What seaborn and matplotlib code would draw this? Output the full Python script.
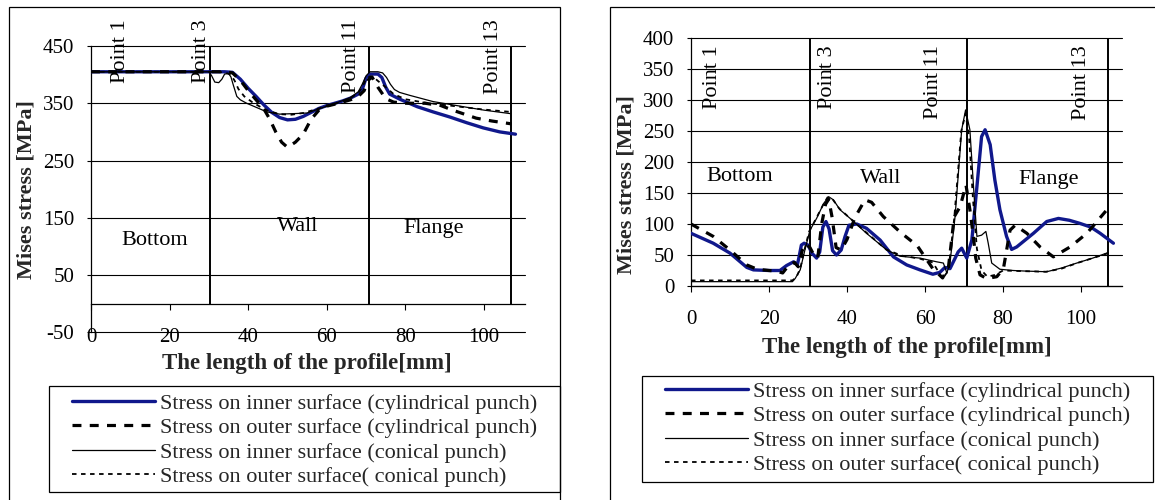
import matplotlib
matplotlib.use("Agg")
import matplotlib.pyplot as plt
import seaborn as sns
from matplotlib.patches import Rectangle
from matplotlib.lines import Line2D

# ---------------- data ----------------
series_labels = ["Stress on inner surface (cylindrical punch)",
                 "Stress on outer surface (cylindrical punch)",
                 "Stress on inner surface (conical punch)",
                 "Stress on outer surface( conical punch)"]
point_labels = ["Point 1", "Point 3", "Point 11", "Point 13"]
region_labels = ["Bottom", "Wall", "Flange"]

# left panel
L_x_inner_cyl = [0, 10, 20, 30, 34, 36, 38, 40, 42, 44, 46, 48, 50, 52, 54, 56, 58, 60, 62, 64, 66, 68, 69, 70, 71,
                 73, 74, 75, 76, 78.6, 83, 87, 91.3, 95.6, 99.8, 104, 108]
L_y_inner_cyl = [405, 405, 405, 405, 405, 404, 392, 376, 362, 347, 334, 325, 321, 322, 327, 334, 341, 346, 350, 354,
                 359, 366, 374, 394, 401, 401, 395, 378, 366, 357, 344, 335, 326, 316, 307, 300, 296]
L_x_outer_cyl = [0, 10, 20, 30, 34, 36, 38, 40, 42, 44, 45.5, 47, 48.5, 50, 52, 54, 56, 58, 60, 63, 66, 68, 69.5,
                 70.5, 71.5, 73, 75, 77, 80, 85, 89, 92, 95, 98, 102, 107]
L_y_outer_cyl = [405, 405, 405, 405, 405, 403, 390, 372, 356, 340, 322, 300, 282, 273, 282, 296, 322, 338, 345, 350,
                 356, 362, 372, 390, 396, 378, 358, 352, 350, 350, 346, 338, 331, 324, 319, 314]
L_x_inner_con = [0, 10, 20, 30, 30.7, 31.5, 32.5, 33.3, 34, 35, 35.6, 36.2, 37.1, 38, 39.6, 42, 44.7, 48, 52, 55,
                 58.3, 60, 63, 66, 68, 69, 70, 71, 73, 74.2, 75.2, 76.2, 77.2, 78.5, 81, 87, 95.6, 100, 106.6]
L_y_inner_con = [405, 405, 405, 405, 398, 387, 386, 392, 401, 402, 396, 382, 362, 356, 350, 343, 335, 331, 332, 333,
                 341, 345, 352, 360, 370, 383, 398, 405, 405, 403, 395, 383, 374, 369, 364, 353, 343, 338, 332]
L_x_outer_con = [0, 10, 20, 30, 34, 35.5, 36.5, 37.5, 39, 41, 43, 45, 48, 51, 54, 57, 60, 63, 66, 68, 69, 70, 71,
                 72, 73, 75, 77, 80, 85, 90, 95, 100, 106.6]
L_y_outer_con = [405, 405, 405, 405, 404, 400, 390, 375, 362, 352, 344, 337, 331, 330, 333, 339, 345, 351, 359, 368,
                 378, 392, 397, 395, 389, 378, 366, 357, 351, 347, 343, 339, 335]
L_bounds = [30.4, 70.7, 106.8]
L_point_x = [7.4, 28.2, 66.4, 102.4]
L_region_x = [16.3, 52.7, 87.2]
L_region_y = [110, 134, 132]
L_yticks = [-50, 50, 150, 250, 350, 450]
L_xticks = [0, 20, 40, 60, 80, 100]

# right panel
R_x_inner_cyl = [0, 5.7, 10, 14.3, 16, 20, 22.8, 24.5, 26.3, 27.3, 27.8, 28.3, 29, 30, 31, 32.2, 33, 33.8, 34.6,
                 35.4, 36.3, 37.3, 38.5, 39.5, 40.5, 42.5, 45, 48.5, 51.9, 55.3, 58.7, 62, 63.8, 65.1, 66.4, 68.5,
                 69.4, 70.7, 72, 73.3, 74.5, 75.4, 76.7, 77.9, 79.2, 80.9, 82.2, 83.5, 87.8, 91.2, 94.2, 97, 99.7,
                 102.5, 104.9, 108.3]
R_y_inner_cyl = [85, 69, 53, 30, 26, 25, 25, 33, 39, 35, 50, 66, 69, 66, 53, 45, 55, 95, 104, 92, 57, 50, 58, 80,
                 98, 100, 93, 74, 47, 34, 26, 19, 22, 30, 28, 55, 61, 45, 74, 160, 241, 252, 228, 171, 123, 80, 59,
                 63, 85, 104, 109, 106, 101, 95, 85, 69]
R_x_outer_cyl = [0, 5.7, 10, 14.3, 17, 20, 22, 23.5, 25, 26.5, 27.5, 28.5, 29.5, 30.5, 31.5, 32.5, 33.5, 34.5, 35.3,
                 36.2, 37.2, 38.5, 40, 42, 44.6, 46.3, 49.3, 53.8, 58, 62, 64.5, 66, 67.5, 69, 70.5, 71.5, 72.3, 73,
                 74.1, 75.8, 78.4, 80.1, 81.8, 83.1, 86.1, 89.5, 92.9, 97.2, 101.5, 106.5]
R_y_outer_cyl = [100, 80, 58, 34, 27, 25, 24, 21, 33, 38, 31, 57, 68, 62, 50, 45, 100, 132, 140, 110, 62, 58, 75,
                 110, 139, 135, 112, 86, 65, 28, 13, 30, 112, 128, 163, 123, 85, 45, 18, 12, 15, 28, 90, 98, 85, 63,
                 47, 63, 85, 122]
R_x_inner_con = [0, 10, 20, 26, 26.7, 28, 29.2, 30.5, 32.2, 34, 35.3, 36.5, 38.2, 40.8, 45, 50.2, 53.6, 58.7, 63,
                 64.7, 65.6, 66.4, 67.7, 69.4, 70.4, 71.5, 72.6, 73.3, 74.5, 75.6, 76.2, 77.1, 79.2, 82.6, 86, 91.2,
                 95, 98.9, 103, 107]
R_y_inner_con = [7, 7, 7, 7, 12, 26, 58, 90, 109, 133, 144, 139, 123, 109, 85, 58, 48, 45, 39, 37, 21, 37, 112, 252,
                 284, 252, 144, 80, 82, 88, 69, 37, 27, 25, 24, 23, 29, 37, 45, 54]
R_x_outer_con = [0, 10, 20, 26, 27, 28, 29, 30.3, 32, 33.8, 35, 36.3, 38, 41, 45, 50, 54, 58.7, 62, 64.5, 66, 67.5,
                 69.3, 70.4, 71.3, 72.3, 73.3, 74.5, 76, 78, 80, 85, 91, 95, 99, 103, 107]
R_y_outer_con = [9, 9, 9, 9, 14, 28, 56, 88, 108, 130, 143, 140, 125, 108, 86, 59, 49, 44, 38, 12, 25, 110, 250,
                 278, 240, 140, 60, 25, 15, 18, 25, 24, 23, 28, 37, 45, 53]
R_bounds = [30.5, 70.7, 107.0]
R_point_x = [5.4, 35.1, 62.2, 100.2]
R_region_x = [12.6, 48.5, 91.6]
R_region_y = [176, 174, 171]
R_yticks = [0, 50, 100, 150, 200, 250, 300, 350, 400]
R_xticks = [0, 20, 40, 60, 80, 100]

# ---------------- style ----------------
sns.set_theme(style="white")
plt.rcParams["font.family"] = ["Liberation Serif", "DejaVu Serif"]
plt.rcParams["axes.unicode_minus"] = False

W, H = 1155, 500
BLUE = "#10188c"
styles = [dict(color=BLUE, lw=2.4, ls="-"),
          dict(color="black", lw=2.3, ls=(0, (2.8, 2.6))),
          dict(color="black", lw=0.9, ls="-"),
          dict(color="black", lw=1.3, ls=(0, (2.5, 2.5)))]


def fx(px):
    return px / W


def fy(py):
    return 1 - py / H


fig = plt.figure(figsize=(W / 100, H / 100), dpi=100)

# outer panel frames
for x0, x1 in [(9, 560), (610, 1165)]:
    fig.add_artist(Rectangle((fx(x0), fy(505)), fx(x1) - fx(x0), fy(7) - fy(505), transform=fig.transFigure,
                             fill=False, ec="black", lw=0.9))

axL = fig.add_axes([fx(91), fy(332.3), fx(524.5) - fx(91), fy(46) - fy(332.3)])
axR = fig.add_axes([fx(691), fy(286), fx(1122) - fx(691), fy(38) - fy(286)])

panels = [
    dict(ax=axL, data=[(L_x_inner_cyl, L_y_inner_cyl), (L_x_outer_cyl, L_y_outer_cyl),
                       (L_x_inner_con, L_y_inner_con), (L_x_outer_con, L_y_outer_con)],
         xlim=(0, 110.3), ylim=(-50, 450), yticks=L_yticks, xticks=L_xticks, bounds=L_bounds,
         point_x=L_point_x, point_top=19, region_x=L_region_x, region_y=L_region_y, xpad=13,
         xlabel_y=363, xlabel_x=307, ylabel_x=26, ylabel_y=190,
         leg_box=(49, 386, 560, 492), leg_anchor=(72, 393)),
    dict(ax=axR, data=[(R_x_inner_cyl, R_y_inner_cyl), (R_x_outer_cyl, R_y_outer_cyl),
                       (R_x_inner_con, R_y_inner_con), (R_x_outer_con, R_y_outer_con)],
         xlim=(0, 110.5), ylim=(0, 400), yticks=R_yticks, xticks=R_xticks, bounds=R_bounds,
         point_x=R_point_x, point_top=45, region_x=R_region_x, region_y=R_region_y, xpad=12.5,
         xlabel_y=348, xlabel_x=906.5, ylabel_x=626, ylabel_y=185,
         leg_box=(642, 376, 1153, 482), leg_anchor=(665, 381)),
]

for p in panels:
    ax = p["ax"]
    ax.set_facecolor("white")
    for (xs, ys), st in zip(p["data"], styles):
        sns.lineplot(x=xs, y=ys, ax=ax, color=st["color"], linewidth=st["lw"], linestyle=st["ls"],
                     estimator=None, sort=False, legend=False, zorder=3)
    ax.set_xlim(*p["xlim"])
    ax.set_ylim(*p["ylim"])
    ax.set_xticks(p["xticks"])
    ax.set_yticks(p["yticks"])
    ax.set_xlabel("")
    ax.set_ylabel("")
    ax.grid(False)
    for yv in p["yticks"]:
        ax.axhline(yv, color="black", lw=0.8, zorder=1, clip_on=False)
    ax.vlines(p["bounds"], 0, p["ylim"][1], color="black", lw=1.4, zorder=2)
    for s in ["top", "right"]:
        ax.spines[s].set_visible(False)
    ax.spines["bottom"].set_position(("data", 0))
    for s in ["left", "bottom"]:
        ax.spines[s].set_color("black")
        ax.spines[s].set_linewidth(0.9)
    ax.tick_params(axis="x", direction="out", length=4.5, width=0.8, pad=p["xpad"], labelsize=15,
                   colors="black", bottom=True)
    ax.tick_params(axis="y", direction="out", length=3, width=0.8, pad=9, labelsize=15, colors="black", left=True)

    for lbl, xv in zip(point_labels, p["point_x"]):
        ax.text(xv, 0, lbl, rotation=90, ha="center", va="top", fontsize=16, color="black", clip_on=False,
                zorder=4)
    for lbl, xv, yv in zip(region_labels, p["region_x"], p["region_y"]):
        ax.text(xv, yv, lbl, ha="center", va="center", fontsize=16, color="black", zorder=4)

    fig.text(fx(p["xlabel_x"]), fy(p["xlabel_y"]), "The length of the profile[mm]", ha="center", va="center",
             fontsize=16.5, fontweight="bold")
    fig.text(fx(p["ylabel_x"]), fy(p["ylabel_y"]), "Mises stress [MPa]", ha="center", va="center",
             rotation=90, fontsize=16, fontweight="bold")

    x0, y0, x1, y1 = p["leg_box"]
    fig.add_artist(Rectangle((fx(x0), fy(y1)), fx(x1) - fx(x0), fy(y0) - fy(y1), transform=fig.transFigure,
                             fill=False, ec="black", lw=0.9))
    handles = [Line2D([], [], color=st["color"], lw=st["lw"], ls=st["ls"]) for st in styles]
    ax.legend(handles, series_labels, loc="upper left",
              bbox_to_anchor=(fx(p["leg_anchor"][0]), fy(p["leg_anchor"][1])),
              bbox_transform=fig.transFigure, frameon=False, borderpad=0, borderaxespad=0, handlelength=3.74,
              handletextpad=0.22, labelspacing=0.18, fontsize=16)

# place the rotated point labels with their tops at the given pixel row
fig.canvas.draw()
for p in panels:
    ax = p["ax"]
    inv = ax.transData.inverted()
    for t in ax.texts:
        if t.get_text() in point_labels:
            xv = t.get_position()[0]
            _, yd = inv.transform((0, H - p["point_top"]))
            t.set_position((xv, yd))

fig.savefig("out.png", dpi=100, facecolor="white")
